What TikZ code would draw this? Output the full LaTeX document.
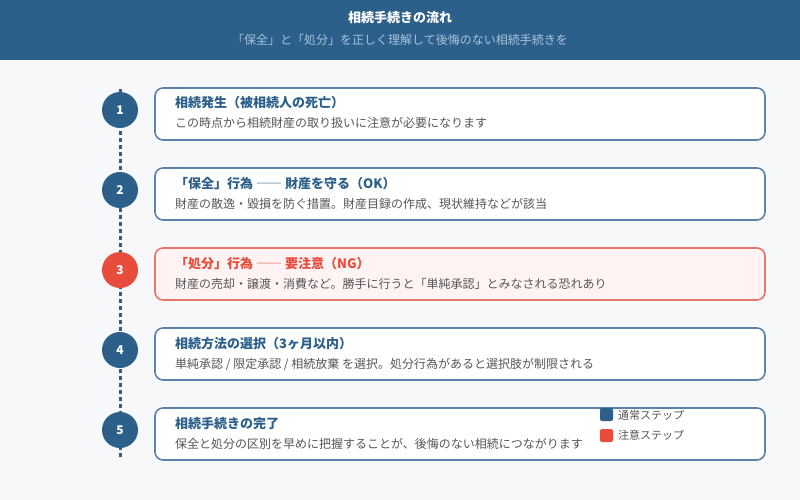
\documentclass[tikz,border=0pt]{standalone}
\usepackage{fontspec}
\setmainfont{Noto Sans CJK JP}
\definecolor{hdr}{HTML}{2C5F8A}
\definecolor{bg}{HTML}{F7F8FA}
\definecolor{boxline}{HTML}{5A83A7}
\definecolor{redc}{HTML}{E74C3C}
\definecolor{redline}{HTML}{E8766B}
\definecolor{redfill}{HTML}{FFF4F3}
\definecolor{desc}{HTML}{555555}
\definecolor{subt}{HTML}{A9C4DD}
\begin{document}
\begin{tikzpicture}[x=1pt,y=-1pt,
  stepcircle/.style={circle,minimum size=36pt,inner sep=0pt,fill=hdr,text=white,font=\bfseries\fontsize{12}{12}\selectfont},
  redcircle/.style={stepcircle,fill=redc},
  stepbox/.style={draw=boxline,line width=1.6pt,rounded corners=8pt,fill=white},
  redbox/.style={draw=redline,line width=1.6pt,rounded corners=8pt,fill=redfill},
  steptitle/.style={anchor=base west,inner sep=0pt,text=hdr,font=\bfseries\fontsize{13}{13}\selectfont},
  redtitle/.style={steptitle,text=redc},
  stepdesc/.style={anchor=base west,inner sep=0pt,text=desc,font=\fontsize{12}{12}\selectfont},
  legsq/.style={rounded corners=2pt},
  legtext/.style={anchor=west,inner sep=0pt,text=desc,font=\fontsize{11}{11}\selectfont},
  timeline/.style={draw=hdr,line width=3pt,dash pattern=on 4pt off 3pt}
]
\useasboundingbox (0,0) rectangle (800,500);
\fill[bg] (0,0) rectangle (800,500);
\fill[hdr] (0,0) rectangle (800,60);
\node[text=white,font=\bfseries\fontsize{13}{13}\selectfont] (title) at (400,18) {相続手続きの流れ};
\node[text=subt,font=\fontsize{12}{12}\selectfont] (subtitle) at (400,40) {「保全」と「処分」を正しく理解して後悔のない相続手続きを};

% timeline
\coordinate (ttop) at (120,89);
\coordinate (tbot) at (120,459);
\draw[timeline] (ttop) -- (tbot);

% boxes
\draw[stepbox] (155,88) rectangle (765,140);
\draw[stepbox] (155,168) rectangle (765,220);
\draw[redbox] (155,248) rectangle (765,300);
\draw[stepbox] (155,328) rectangle (765,380);
\draw[stepbox] (155,408) rectangle (765,460);

% circles
\node[stepcircle] (c1) at (120,110) {1};
\node[stepcircle] (c2) at (120,190) {2};
\node[redcircle] (c3) at (120,270) {3};
\node[stepcircle] (c4) at (120,350) {4};
\node[stepcircle] (c5) at (120,430) {5};

% texts
\node[steptitle] (t1) at (175,108) {相続発生（被相続人の死亡）};
\node[stepdesc] (d1) at (175,128) {この時点から相続財産の取り扱いに注意が必要になります};
\node[steptitle] (t2) at (175,188) {「保全」行為 {\mdseries ――} 財産を守る（OK）};
\node[stepdesc] (d2) at (175,208) {財産の散逸・毀損を防ぐ措置。財産目録の作成、現状維持などが該当};
\node[redtitle] (t3) at (175,268) {「処分」行為 {\mdseries ――} 要注意（NG）};
\node[stepdesc] (d3) at (175,288) {財産の売却・譲渡・消費など。勝手に行うと「単純承認」とみなされる恐れあり};
\node[steptitle] (t4) at (175,348) {相続方法の選択（3ヶ月以内）};
\node[stepdesc] (d4) at (175,368) {単純承認 / 限定承認 / 相続放棄 を選択。処分行為があると選択肢が制限される};
\node[steptitle] (t5) at (175,428) {相続手続きの完了};
\node[stepdesc] (d5) at (175,448) {保全と処分の区別を早めに把握することが、後悔のない相続につながります};

% legend
\fill[hdr,legsq] (600,408) rectangle (613,421);
\node[legtext] (l1) at (618,415) {通常ステップ};
\fill[redc,legsq] (600,429) rectangle (613,442);
\node[legtext] (l2) at (618,435.5) {注意ステップ};
\end{tikzpicture}
\end{document}
